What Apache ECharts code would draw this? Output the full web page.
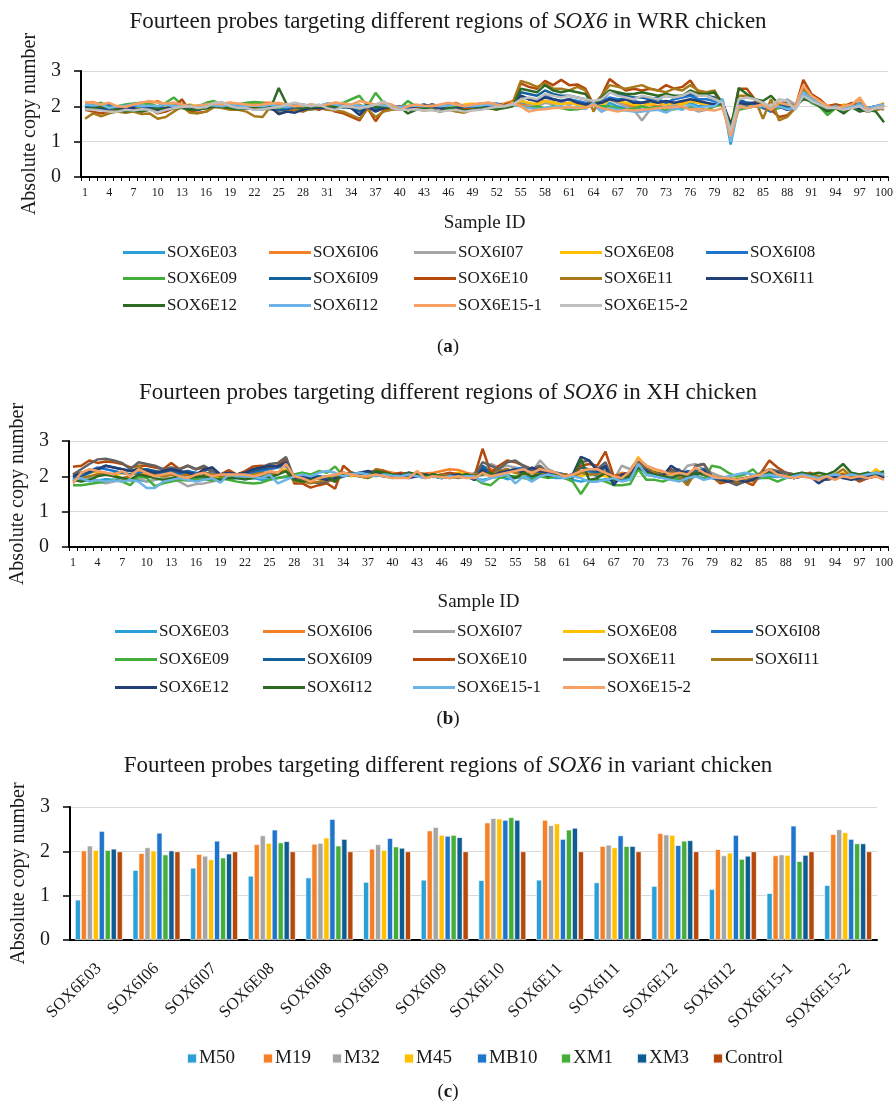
<!DOCTYPE html>
<html><head><meta charset="utf-8">
<script src="https://cdn.jsdelivr.net/npm/echarts@6/dist/echarts.min.js"></script>
<style>
html,body{margin:0;padding:0;background:#fff;}
.c{position:absolute;left:0;width:896px;}
</style></head>
<body>
<div id="ca" class="c" style="top:0;height:370px"></div>
<div id="cb" class="c" style="top:370px;height:370px"></div>
<div id="cc" class="c" style="top:740px;height:368px"></div>
<script>
// ---------- categories ----------
const sampleIds = [];
for (let i = 1; i <= 100; i++) sampleIds.push(String(i));
const probesA = ['SOX6E03','SOX6I06','SOX6I07','SOX6E08','SOX6I08','SOX6E09','SOX6I09','SOX6E10','SOX6E11','SOX6I11','SOX6E12','SOX6I12','SOX6E15-1','SOX6E15-2'];
const probesB = ['SOX6E03','SOX6I06','SOX6I07','SOX6E08','SOX6I08','SOX6E09','SOX6I09','SOX6E10','SOX6E11','SOX6I11','SOX6E12','SOX6I12','SOX6E15-1','SOX6E15-2'];
const probesC = ['SOX6E03','SOX6I06','SOX6I07','SOX6E08','SOX6I08','SOX6E09','SOX6I09','SOX6E10','SOX6E11','SOX6I11','SOX6E12','SOX6I12','SOX6E15-1','SOX6E15-2'];
const variants = ['M50','M19','M32','M45','MB10','XM1','XM3','Control'];
const yTicks = [0,1,2,3];

// ---------- (a) WRR chicken ----------
const wrrE03 = [2.05,2.02,1.98,2.01,1.95,2.03,2.0,1.97,2.04,1.99, 2.02,2.06,1.98,2.0,1.96,2.03,2.05,2.0,1.98,2.02, 2.0,1.97,2.03,2.0,1.92,1.98,2.02,2.05,2.0,1.96, 2.08,2.04,2.0,1.98,1.95,2.02,1.98,2.05,2.01,1.96, 2.0,2.03,1.97,2.02,1.98,2.04,2.0,1.96,2.05,2.0, 2.02,1.98,2.04,2.06,2.1,2.05,2.0,2.12,2.08,2.1, 2.05,2.1,2.0,2.06,1.85,2.1,2.0,1.95,2.02,1.9, 1.95,2.0,1.85,2.02,2.05,2.1,2.0,2.05,2.08,2.2, 0.92,2.05,2.0,2.02,1.98,1.85,2.0,1.9,2.0,2.35, 2.2,2.1,1.95,2.0,1.92,2.0,2.1,1.95,2.0,2.05];
const wrrI06 = [2.1,2.12,2.05,2.08,1.98,1.95,2.02,2.1,2.08,2.15, 2.05,2.1,2.0,1.98,2.02,2.05,2.1,2.08,2.1,2.05, 2.08,2.05,2.1,2.1,2.05,2.0,2.05,1.98,2.0,2.02, 2.05,2.1,2.08,2.0,2.05,1.95,2.05,2.1,2.02,1.98, 2.0,2.02,2.0,2.05,1.98,2.02,2.1,2.0,2.05,2.08, 2.1,2.05,2.08,2.15,2.05,2.0,2.1,2.15,2.12,2.05, 2.1,2.05,2.0,2.05,2.0,2.2,2.1,2.05,2.0,2.1, 2.05,2.0,2.1,2.05,2.1,2.15,2.1,2.05,2.0,2.1, 1.25,2.1,2.05,2.0,2.05,1.95,2.1,2.05,2.0,2.55, 2.3,2.2,2.0,2.05,2.0,2.05,2.2,1.9,2.0,2.0];
const wrrI07 = [1.9,1.95,1.92,1.88,1.95,2.0,1.9,1.95,1.98,1.9, 1.95,2.0,1.98,1.95,1.92,2.0,2.05,2.02,1.98,2.0, 1.95,1.92,1.9,1.95,1.92,2.0,1.98,1.95,2.0,1.98, 1.95,2.0,1.98,1.95,1.92,1.9,1.95,2.05,2.0,1.95, 1.98,1.95,1.9,1.92,1.95,1.9,1.92,1.95,1.9,1.95, 1.98,2.0,2.02,2.1,2.2,2.05,2.0,2.1,2.05,2.08, 2.05,2.1,2.0,2.08,2.0,2.2,2.1,2.0,1.9,1.6, 1.9,1.95,2.0,2.05,2.0,1.95,1.85,1.9,2.0,2.1, 1.2,2.0,2.05,2.1,2.0,1.9,2.05,2.2,2.05,2.35, 2.15,2.05,1.9,1.95,1.85,1.95,2.0,1.9,1.95,1.9];
const wrrE08 = [1.95,2.0,2.05,2.0,1.98,2.02,2.0,1.95,2.02,1.98, 2.0,2.02,1.98,2.05,2.0,1.98,2.02,2.0,1.98,2.0, 2.02,2.05,2.0,1.98,1.95,2.0,1.98,2.0,2.02,2.0, 1.98,2.0,2.02,2.0,1.95,1.9,1.98,2.0,1.98,2.0, 2.02,1.98,2.0,1.98,2.02,2.0,1.98,2.05,2.08,2.02, 2.05,2.0,2.05,2.1,2.15,2.1,2.05,2.15,2.1,2.05, 2.1,2.05,2.0,2.05,2.0,2.2,2.15,2.1,2.05,2.0, 2.05,2.1,2.05,2.1,2.05,2.15,2.1,2.05,2.0,2.05, 1.55,2.1,2.05,2.0,1.95,2.0,2.05,1.95,2.0,2.45, 2.2,2.1,2.0,1.95,2.05,2.0,2.05,1.95,2.0,2.1];
const wrrI08 = [2.0,1.98,2.02,2.05,1.95,1.98,2.0,2.02,1.98,2.0, 1.95,2.0,2.05,2.02,1.98,2.0,2.02,2.05,1.98,1.95, 2.0,2.02,1.98,2.0,1.95,1.92,1.98,2.0,2.02,2.0, 2.05,2.0,1.98,2.0,1.98,2.0,1.95,2.0,2.02,1.98, 2.0,2.02,1.98,2.05,2.0,2.02,2.05,2.0,2.02,1.98, 2.05,2.08,2.02,2.1,2.3,2.2,2.15,2.3,2.2,2.15, 2.2,2.15,2.1,2.05,2.1,2.25,2.2,2.2,2.15,2.1, 2.15,2.2,2.1,2.2,2.25,2.3,2.2,2.2,2.15,2.1, 1.4,2.15,2.1,2.05,1.95,1.85,2.05,2.0,2.0,2.4, 2.2,2.1,2.0,1.95,2.0,2.0,2.05,1.95,2.0,2.05];
const wrrE09 = [2.02,2.05,2.1,1.95,2.0,2.05,2.08,2.1,2.05,2.0, 2.1,2.25,2.05,1.95,2.0,2.1,2.15,2.05,2.0,2.05, 2.1,2.12,2.1,2.0,1.95,2.0,2.02,1.98,1.9,1.95, 2.0,2.05,2.1,2.2,2.3,2.0,2.38,2.1,2.0,1.95, 2.15,2.0,1.95,1.98,2.0,1.95,1.98,2.0,1.95,2.0, 2.02,1.98,2.0,2.05,2.0,1.95,2.0,1.95,2.0,1.95, 1.9,1.92,1.95,2.05,2.0,2.0,1.95,1.9,1.95,2.0, 1.95,1.98,1.9,1.92,1.95,2.0,1.95,1.9,2.0,2.05, 1.3,1.9,1.95,2.0,2.0,1.9,1.95,2.0,2.0,2.3, 2.1,2.0,1.75,1.95,1.85,2.0,1.9,1.85,1.95,2.0];
const wrrI09 = [1.95,2.0,1.95,1.9,1.92,1.95,1.9,1.95,1.92,1.98, 1.9,1.95,1.98,1.92,1.9,1.95,2.0,1.98,1.95,1.92, 1.95,1.98,1.95,1.92,1.88,1.9,1.92,1.95,2.0,1.98, 2.0,1.95,1.98,1.95,1.85,1.95,1.9,1.98,1.95,1.92, 1.95,2.0,1.95,2.05,1.95,1.92,1.9,1.95,2.0,1.95, 2.0,1.95,2.0,2.05,2.4,2.35,2.3,2.45,2.35,2.3, 2.3,2.25,2.2,2.1,2.15,2.4,2.35,2.3,2.25,2.25, 2.2,2.25,2.3,2.25,2.3,2.35,2.3,2.3,2.25,2.1, 1.35,2.2,2.1,2.1,2.0,1.9,2.05,2.0,1.95,2.35, 2.15,2.05,1.9,2.0,1.92,2.0,1.95,1.9,1.95,2.05];
const wrrE10 = [1.9,1.85,1.8,1.85,1.9,1.88,1.92,1.85,1.95,1.8, 1.85,1.95,2.2,1.85,1.82,1.85,2.0,2.05,2.0,2.05, 2.0,1.95,1.95,2.0,1.8,1.85,1.9,1.85,1.95,1.9, 2.0,1.85,1.8,1.7,1.6,1.95,1.58,1.9,1.95,2.0, 1.95,2.0,1.95,2.05,1.95,1.9,1.9,1.95,1.92,1.95, 2.0,1.95,2.05,2.1,2.65,2.55,2.5,2.72,2.6,2.75, 2.6,2.62,2.5,2.05,2.3,2.77,2.6,2.45,2.5,2.45, 2.5,2.45,2.6,2.5,2.55,2.73,2.4,2.4,2.38,2.0, 1.3,2.5,2.5,2.2,2.0,1.9,1.7,1.75,1.95,2.75, 2.35,2.2,2.0,2.05,2.0,2.1,2.0,1.85,1.9,1.95];
const wrrE11 = [1.65,1.8,1.72,1.8,1.85,1.82,1.85,1.78,1.8,1.65, 1.7,1.85,2.0,1.82,1.8,1.85,1.98,1.95,1.9,1.9, 1.85,1.72,1.7,2.0,1.78,1.85,1.9,1.88,1.92,1.95, 1.9,1.88,1.85,1.75,1.65,1.92,1.7,1.85,1.9,1.92, 1.9,1.92,1.88,1.9,1.85,1.9,1.85,1.82,1.9,1.92, 1.95,1.9,2.0,2.1,2.72,2.65,2.55,2.65,2.5,2.5, 2.45,2.55,2.45,1.85,2.3,2.6,2.55,2.5,2.55,2.6, 2.5,2.45,2.4,2.5,2.45,2.6,2.45,2.4,2.45,2.0, 1.25,2.3,2.3,2.2,1.65,2.2,1.6,1.7,1.95,2.5, 2.3,2.15,1.95,2.0,1.9,2.0,1.95,1.85,1.9,1.95];
const wrrI11 = [1.95,1.9,1.92,1.95,1.9,1.92,1.95,1.9,1.95,1.9, 1.95,2.0,1.98,1.95,1.92,1.95,2.0,2.0,1.98,1.95, 1.95,1.92,1.95,1.98,1.78,1.85,1.82,1.9,1.95,1.95, 1.95,2.0,2.05,1.95,1.75,2.0,1.85,1.95,2.0,1.95, 1.95,2.0,2.05,1.98,1.95,1.92,1.95,1.98,2.0,1.95, 2.0,1.98,2.02,2.05,2.3,2.2,2.15,2.25,2.2,2.15, 2.2,2.1,2.05,2.08,2.1,2.2,2.15,2.2,2.1,2.1, 2.15,2.1,2.15,2.1,2.15,2.2,2.15,2.1,2.05,2.1, 1.5,2.1,2.05,2.1,2.0,1.95,2.0,1.9,1.95,2.3, 2.15,2.05,1.95,1.98,1.95,1.98,1.92,1.95,2.0,2.0];
const wrrE12 = [1.92,1.95,2.0,1.95,1.9,1.85,1.88,1.85,1.9,1.95, 1.9,1.95,1.95,1.9,1.92,1.95,2.0,1.98,1.95,1.92, 1.95,1.98,1.95,1.95,2.52,2.05,2.0,1.95,1.98,2.0, 1.98,2.0,1.98,2.0,1.95,2.05,1.98,2.0,1.95,1.98, 1.8,1.9,1.95,1.92,1.85,1.95,1.92,1.88,1.9,1.95, 1.95,1.92,1.95,2.0,2.5,2.45,2.4,2.6,2.45,2.4, 2.45,2.4,2.35,2.05,2.25,2.45,2.4,2.35,2.35,2.4, 2.35,2.3,2.35,2.3,2.3,2.45,2.35,2.35,2.4,2.1, 1.35,2.52,2.35,2.2,2.15,2.3,2.05,2.1,2.0,2.2, 2.15,2.0,1.85,1.95,1.8,1.98,1.85,1.9,1.85,1.55];
const wrrI12 = [2.05,2.02,2.05,1.95,2.0,2.02,2.05,2.0,2.02,2.0, 2.05,2.0,2.02,1.98,2.02,2.05,2.02,2.0,2.05,2.02, 2.0,2.02,2.0,2.05,2.0,1.98,2.02,2.0,2.05,2.02, 2.08,2.05,2.0,2.05,2.02,2.0,2.05,2.02,2.0,1.98, 2.0,2.02,2.0,2.02,2.0,2.02,2.05,2.0,2.0,2.02, 2.05,2.0,2.02,2.05,2.0,1.95,1.92,1.95,1.98,2.0, 1.95,1.98,1.92,2.1,1.85,1.95,1.9,1.88,1.85,1.85, 1.88,1.9,1.82,1.95,1.9,2.05,1.95,2.0,2.0,2.2, 1.0,2.0,1.95,2.0,2.0,1.95,2.0,1.92,1.95,2.4, 2.2,2.1,1.95,2.0,1.95,1.98,2.05,1.95,2.0,2.05];
const wrrE151 = [2.12,2.1,2.05,2.1,2.0,1.98,2.05,2.1,2.15,2.1, 2.08,2.1,2.05,2.0,2.02,2.05,2.08,2.05,2.1,2.08, 2.05,2.02,2.05,2.08,2.1,2.05,2.0,2.02,2.05,2.02, 2.05,2.1,2.08,2.05,2.15,2.1,2.05,2.1,2.05,1.9, 2.0,2.05,2.02,2.0,2.05,2.1,2.05,2.0,2.05,2.08, 2.1,2.05,2.0,2.1,2.0,1.85,1.9,1.92,1.95,1.95, 1.98,1.95,1.95,2.05,1.95,1.9,1.85,1.9,1.88,1.9, 1.92,1.95,1.95,1.98,2.0,1.9,1.92,1.9,1.88,1.95, 1.15,2.0,1.95,2.0,2.05,1.9,2.1,2.05,2.0,2.6, 2.3,2.15,2.0,1.95,2.0,2.05,2.25,1.9,1.95,2.0];
const wrrE152 = [1.92,1.9,1.88,1.85,1.85,1.9,1.88,1.92,1.9,1.82, 1.9,1.95,1.98,2.0,1.95,1.98,2.1,2.12,2.0,1.95, 1.95,1.9,1.92,1.95,1.98,2.05,2.1,2.05,2.0,2.05, 1.95,1.9,2.0,1.98,1.95,1.98,2.05,2.15,1.95,1.9, 1.9,1.92,1.88,1.9,1.85,1.88,1.9,1.85,1.88,1.9, 1.95,1.98,2.0,2.05,2.2,2.25,2.2,2.35,2.3,2.25, 2.3,2.25,2.2,2.15,2.2,2.4,2.3,2.25,2.2,2.3, 2.25,2.2,2.3,2.25,2.3,2.4,2.3,2.3,2.2,2.1, 1.3,2.2,2.25,2.2,2.1,2.0,2.2,2.15,1.9,2.3, 2.15,2.05,1.95,1.95,1.9,1.95,2.0,1.85,1.95,1.95];

// ---------- (b) XH chicken ----------
const xhE03 = [1.85,1.9,1.95,1.88,1.92,1.9,1.95,1.88,1.9,1.85, 1.9,1.95,1.92,1.95,1.9,1.92,1.95,1.9,1.95,1.92, 1.95,1.92,1.95,1.9,1.92,1.95,1.98,2.0,1.95,1.98, 2.0,1.95,2.0,2.05,2.02,2.0,2.05,2.02,2.0,2.02, 2.0,2.05,2.02,2.0,1.98,2.0,2.02,2.0,2.02,1.95, 1.9,1.95,2.0,1.92,1.95,2.0,1.95,2.0,1.98,1.95, 1.95,1.9,1.85,1.9,1.88,1.92,1.85,1.9,1.95,2.3, 2.05,2.0,1.95,2.0,1.95,1.9,2.0,1.95,2.0,1.95, 1.95,1.92,1.95,1.9,1.95,2.0,1.98,2.0,1.95,2.0, 1.98,1.95,2.0,1.98,1.95,2.0,1.98,1.95,2.05,2.0];
const xhI06 = [2.05,2.1,2.15,2.1,2.05,2.08,2.1,2.05,2.1,2.05, 2.05,2.0,2.05,2.08,2.1,2.05,2.02,2.05,2.0,2.02, 2.05,2.08,2.1,2.05,2.1,2.08,2.2,2.0,1.95,1.9, 1.95,2.0,1.95,2.1,2.05,2.0,2.05,2.2,2.15,2.1, 2.05,2.1,2.05,2.08,2.1,2.15,2.2,2.18,2.1,2.05, 2.15,2.2,2.1,2.15,2.2,2.1,2.15,2.1,2.05,2.0, 2.05,2.0,2.1,2.05,2.1,2.15,2.0,2.1,2.05,2.4, 2.2,2.15,2.1,2.05,2.15,2.1,2.05,2.1,2.0,1.95, 1.95,1.9,1.95,2.0,2.05,2.15,2.1,2.05,2.0,2.05, 2.1,2.0,1.95,2.0,2.05,2.0,1.9,1.95,2.0,1.95];
const xhI07 = [1.95,2.0,1.9,1.85,1.8,1.85,1.9,1.88,1.95,1.85, 1.9,1.95,1.92,1.85,1.72,1.78,1.8,1.85,1.9,1.95, 1.98,2.0,1.95,2.0,2.05,2.1,2.2,2.05,2.1,2.0, 1.95,2.0,1.9,2.05,2.1,2.0,2.05,2.1,2.0,2.05, 2.0,2.05,2.0,1.95,2.0,2.05,2.0,1.98,2.0,2.1, 2.2,2.35,2.25,2.3,2.25,2.2,2.1,2.45,2.2,2.1, 2.05,2.0,2.1,2.2,2.1,2.05,1.9,2.3,2.2,2.5, 2.3,2.2,2.1,2.05,2.0,2.3,2.35,2.2,2.1,2.0, 1.95,1.9,1.95,2.0,2.1,2.15,2.05,2.1,2.05,2.1, 2.05,2.0,1.95,2.0,2.05,1.95,1.95,2.0,2.05,2.0];
const xhE08 = [1.85,2.0,2.1,2.15,2.05,2.0,2.1,2.05,2.15,2.1, 2.05,2.0,2.05,2.1,2.05,2.0,2.05,2.0,1.95,2.0, 2.05,2.0,2.05,2.0,2.05,2.1,2.2,2.0,1.95,1.9, 1.95,1.9,1.95,2.05,2.0,2.05,2.0,2.15,2.1,2.05, 2.05,2.0,2.05,2.0,2.05,2.0,2.05,2.1,2.05,2.0, 2.1,2.05,2.1,2.15,2.1,2.05,2.1,2.05,2.1,2.05, 2.0,2.05,2.0,2.1,2.05,2.0,1.95,2.05,2.1,2.55, 2.25,2.15,2.1,2.05,2.0,1.8,2.1,2.05,2.0,1.95, 1.9,1.95,1.9,1.95,2.05,2.1,2.05,1.95,2.0,2.05, 2.05,2.0,1.95,2.0,2.1,2.0,1.95,2.0,2.2,2.05];
const xhI08 = [1.95,2.0,2.15,2.25,2.2,2.15,2.1,2.05,2.1,2.15, 2.1,2.05,2.1,2.05,2.15,2.1,2.05,2.15,2.0,2.05, 2.0,2.05,2.1,2.15,2.2,2.25,2.3,2.0,1.95,1.9, 2.0,1.95,1.9,2.0,2.05,2.1,2.05,2.1,2.0,2.05, 2.0,2.05,2.0,2.05,2.0,1.95,2.0,2.05,2.0,1.95, 2.3,2.05,2.1,2.15,2.2,2.25,2.1,2.15,2.05,2.0, 2.0,2.05,2.1,2.15,2.0,2.3,1.95,2.0,2.05,2.35, 2.15,2.1,2.05,2.1,2.05,2.15,2.1,2.05,2.0,1.9, 1.85,1.9,1.95,2.0,2.05,2.1,2.05,2.0,1.95,2.0, 2.0,1.95,1.9,2.0,2.05,1.95,1.9,1.95,2.1,2.05];
const xhE09 = [1.75,1.75,1.78,1.82,1.85,1.9,1.85,1.75,2.0,1.95, 1.72,1.8,1.85,1.9,1.88,1.9,1.92,1.88,1.95,1.9, 1.85,1.82,1.8,1.82,1.9,1.95,2.0,2.05,2.1,2.05, 2.15,2.1,2.28,2.0,2.05,2.0,1.95,2.05,2.0,1.95, 2.0,2.05,2.0,1.98,2.0,1.95,2.0,2.05,2.0,1.95, 1.8,1.75,1.95,2.0,2.0,1.95,1.9,2.0,1.95,2.0, 1.95,1.85,1.5,1.85,1.9,1.85,1.75,1.75,1.78,2.2, 1.9,1.9,1.85,1.95,1.9,2.0,2.05,1.9,2.3,2.25, 2.1,2.0,2.05,2.2,1.95,1.95,1.85,1.95,2.0,2.05, 2.05,2.0,2.0,2.05,2.0,2.05,2.0,2.1,2.05,2.0];
const xhI09 = [1.9,2.0,2.1,2.2,2.3,2.25,2.2,2.15,2.2,2.2, 2.15,2.1,2.15,2.1,2.15,2.05,2.15,2.25,2.0,2.05, 2.05,2.1,2.15,2.2,2.25,2.3,2.35,1.95,1.9,1.95, 2.0,1.95,1.9,2.05,2.1,2.05,2.1,2.05,2.0,2.05, 2.05,2.1,2.05,2.0,2.05,2.0,2.05,2.0,2.05,1.9, 2.3,2.1,2.15,2.2,2.1,2.15,2.2,2.1,2.05,2.1, 2.05,2.0,2.25,2.2,2.1,2.25,1.8,2.0,2.05,2.3, 2.2,2.1,2.05,2.2,2.1,2.05,2.15,2.2,2.0,1.9, 1.9,1.85,1.9,1.95,2.05,2.1,2.05,2.0,1.95,2.0, 2.05,1.95,1.9,1.95,2.0,2.0,1.95,1.95,2.1,2.05];
const xhE10 = [2.27,2.3,2.45,2.38,2.42,2.4,2.35,2.25,2.3,2.3, 2.25,2.2,2.38,2.2,2.3,2.2,2.25,2.15,2.05,2.18, 2.05,2.15,2.28,2.3,2.28,2.3,2.5,1.8,1.8,1.68, 1.75,1.8,1.65,2.3,2.1,2.05,2.0,2.2,2.15,2.05, 2.1,2.05,2.1,2.05,2.0,2.05,2.1,2.05,2.0,2.0, 2.78,2.1,2.3,2.45,2.4,2.3,2.2,2.25,2.1,2.0, 2.05,2.0,2.3,2.35,2.3,2.7,2.0,2.05,2.1,2.45, 2.2,2.1,2.05,2.2,2.0,1.75,2.3,2.35,2.0,1.8, 1.85,1.8,1.85,1.75,2.1,2.45,2.25,2.1,2.05,2.0, 2.1,1.95,1.9,2.0,2.05,2.0,1.85,1.95,2.0,1.95];
const xhE11 = [2.05,2.2,2.35,2.48,2.5,2.45,2.38,2.2,2.4,2.35, 2.3,2.2,2.25,2.2,2.3,2.2,2.3,2.15,2.05,2.1, 2.05,2.1,2.2,2.25,2.35,2.38,2.55,1.95,1.9,1.85, 1.8,1.85,1.9,2.05,2.1,2.05,2.0,2.1,2.05,2.0, 2.05,2.0,2.05,2.0,2.05,2.0,2.05,2.0,2.05,2.0, 2.4,2.3,2.2,2.4,2.45,2.3,2.2,2.3,2.1,2.05, 2.0,2.05,2.4,2.45,2.2,2.4,1.85,1.95,2.05,2.4, 2.2,2.1,2.05,2.15,2.2,1.75,2.3,2.35,2.0,1.9, 1.85,1.75,1.85,1.95,2.1,2.2,2.15,2.1,2.05,2.05, 2.0,1.95,1.9,1.95,2.0,1.95,1.9,1.95,2.0,1.95];
const xhI11 = [1.9,1.95,2.0,2.05,2.1,2.0,1.95,2.0,2.3,2.1, 2.05,2.0,2.05,2.0,2.05,2.0,2.1,2.05,2.0,2.05, 2.05,2.0,2.05,2.1,2.05,2.1,2.15,1.85,1.85,1.8, 1.85,1.9,1.85,2.05,2.05,2.0,1.95,2.2,2.1,2.05, 2.0,2.05,2.1,2.05,2.0,2.05,2.0,1.95,2.0,2.05, 2.1,2.05,2.15,2.2,2.1,2.05,2.1,2.05,2.1,2.0, 2.05,2.0,2.1,2.05,2.05,2.1,1.95,2.0,2.05,2.35, 2.15,2.1,2.0,2.1,2.0,1.75,2.1,2.05,2.0,1.85, 1.9,1.85,1.9,1.85,2.1,2.1,2.05,2.0,2.05,2.0, 2.05,2.0,1.95,2.05,2.2,2.0,1.95,2.0,2.05,2.0];
const xhE12 = [2.0,2.1,2.15,2.2,2.3,2.25,2.2,2.15,2.2,2.15, 2.1,2.15,2.2,2.15,2.1,2.05,2.2,2.25,2.05,2.1, 2.05,2.1,2.2,2.25,2.3,2.28,2.4,1.95,2.0,1.95, 1.95,1.9,1.95,2.0,2.05,2.1,2.15,2.1,2.05,2.0, 2.05,1.95,2.0,2.05,2.0,1.95,2.0,2.05,2.0,1.9, 2.2,2.0,2.1,2.15,2.2,2.1,2.25,2.15,2.1,2.05, 2.0,2.05,2.55,2.45,2.15,2.3,1.75,2.05,2.1,2.3, 2.15,2.05,2.0,2.3,2.15,2.1,2.05,2.15,1.95,1.9, 1.85,1.9,1.85,1.9,2.05,2.1,2.1,2.0,1.95,2.0, 2.0,1.8,1.95,2.0,1.95,1.9,1.95,2.0,2.05,1.95];
const xhI12 = [1.9,1.85,1.9,2.0,2.05,2.0,1.95,1.9,2.05,2.0, 1.95,1.9,1.95,2.0,1.95,1.98,2.0,1.95,1.9,1.95, 1.95,1.92,1.95,2.0,1.98,2.05,2.15,1.9,1.85,1.9, 1.95,2.0,1.85,2.1,2.05,2.0,2.05,2.15,2.1,2.05, 2.0,2.1,2.05,2.0,2.05,2.0,1.95,2.0,2.05,2.0, 2.05,2.1,2.0,2.05,1.95,2.1,2.0,2.05,2.0,2.05, 2.0,1.95,2.5,1.9,1.95,2.1,1.9,1.95,2.0,2.25, 2.1,2.05,2.0,1.95,2.05,2.0,2.1,2.05,2.0,1.95, 1.95,1.9,1.95,2.0,2.05,2.1,2.05,2.0,2.05,2.1, 2.05,2.1,2.05,2.15,2.35,2.1,2.05,2.1,2.05,2.15];
const xhE151 = [1.9,1.95,1.85,1.9,1.85,1.88,1.85,1.9,1.85,1.67, 1.67,1.85,1.9,1.95,1.9,1.85,1.9,1.95,1.82,2.05, 2.0,2.0,1.98,1.95,2.05,1.8,1.9,2.0,2.05,2.0, 2.1,2.15,2.1,2.0,2.05,2.1,2.05,2.0,2.05,2.02, 2.0,2.05,2.0,1.95,2.0,1.95,2.0,1.98,2.0,2.0, 1.85,1.95,2.0,2.05,1.8,2.0,1.85,2.0,2.05,2.0, 1.95,2.0,1.95,1.85,1.85,1.9,1.95,1.85,1.9,2.35, 2.05,2.0,1.95,1.9,1.85,1.95,2.0,1.9,1.95,1.95, 2.0,2.05,2.1,2.05,2.0,2.05,2.0,1.95,2.0,2.05, 2.0,1.95,2.0,2.05,2.0,2.05,2.0,2.05,2.1,2.05];
const xhE152 = [1.8,2.1,2.2,2.15,2.1,2.05,2.15,2.0,2.2,2.1, 2.0,2.05,2.1,2.0,1.95,2.05,2.1,2.0,2.05,2.05, 2.05,2.05,2.0,2.05,2.15,2.1,2.35,2.0,1.95,1.85, 1.95,2.0,2.05,2.1,2.05,2.0,2.0,2.05,2.0,1.95, 1.95,1.95,2.15,1.95,2.0,1.98,1.95,2.0,1.95,1.95, 2.1,2.0,2.05,2.1,2.15,2.2,2.1,2.2,2.15,2.1, 2.0,2.05,2.15,2.2,2.2,2.1,2.0,1.95,2.15,2.5, 2.3,2.2,2.15,2.05,2.1,2.05,2.25,2.1,2.0,1.95, 1.95,1.9,1.95,2.0,2.05,2.2,2.05,2.0,1.95,2.0, 1.95,1.9,2.0,1.9,2.0,1.95,2.0,1.95,2.0,1.9];

// ---------- (c) variant chicken ----------
const vM50  = [0.91,1.58,1.63,1.45,1.41,1.31,1.36,1.35,1.36,1.30,1.22,1.15,1.06,1.24];
const vM19  = [2.02,1.96,1.94,2.16,2.17,2.06,2.47,2.65,2.71,2.12,2.41,2.05,1.91,2.39];
const vM32  = [2.13,2.09,1.90,2.36,2.19,2.16,2.55,2.75,2.59,2.15,2.38,1.91,1.93,2.50];
const vM45  = [2.03,2.02,1.82,2.19,2.31,2.03,2.37,2.74,2.63,2.09,2.37,1.97,1.92,2.43];
const vMB10 = [2.46,2.42,2.24,2.49,2.73,2.30,2.35,2.71,2.28,2.36,2.14,2.37,2.58,2.28];
const vXM1  = [2.03,1.93,1.86,2.20,2.13,2.11,2.37,2.77,2.49,2.12,2.24,1.83,1.78,2.18];
const vXM3  = [2.06,2.02,1.95,2.23,2.28,2.08,2.32,2.71,2.53,2.12,2.25,1.90,1.92,2.18];
const vCtrl = [2.00,2.00,2.00,2.00,2.00,2.00,2.00,2.00,2.00,2.00,2.00,2.00,2.00,2.00];

const F = "'Liberation Serif', 'DejaVu Serif', serif";
const TXT = '#1a1a1a';

const colorsA = ['#2A9FD8','#F58025','#A5A5A5','#FFC000','#1F74CC','#45AD3A','#13609A','#B5490B','#A8791A','#233F78','#2E6B22','#6CB4E8','#F8A064','#BFBFBF'];
const colorsB = ['#2A9FD8','#F58025','#A5A5A5','#FFC000','#1F74CC','#45AD3A','#13609A','#B5490B','#636363','#A8791A','#233F78','#2E6B22','#6CB4E8','#F8A064'];
const colorsC = ['#2A9FD8','#F58025','#A5A5A5','#FFC000','#1F74CC','#45AD3A','#0E5C94','#B5490B'];

const dataA = [wrrE03,wrrI06,wrrI07,wrrE08,wrrI08,wrrE09,wrrI09,wrrE10,wrrE11,wrrI11,wrrE12,wrrI12,wrrE151,wrrE152];
const dataB = [xhE03,xhI06,xhI07,xhE08,xhI08,xhE09,xhI09,xhE10,xhE11,xhI11,xhE12,xhI12,xhE151,xhE152];
const dataC = [vM50,vM19,vM32,vM45,vMB10,vXM1,vXM3,vCtrl];

function titleRich(txt, top) {
  return { text: '{n|Fourteen probes targeting different regions of }{i|SOX6}{n| in ' + txt + ' chicken}',
    left: 'center', top: top, padding: 0,
    textStyle: { fontWeight: 'normal', rich: {
      n: { fontFamily: F, fontSize: 23, color: TXT, fontWeight: 'normal' },
      i: { fontFamily: F, fontSize: 23, color: TXT, fontStyle: 'italic', fontWeight: 'normal' } } } };
}
function panelLabel(ch, top) {
  return { text: '{n|(}{b|' + ch + '}{n|)}', left: 'center', top: top, padding: 0,
    textStyle: { fontWeight: 'normal', rich: {
      n: { fontFamily: F, fontSize: 19, color: TXT, fontWeight: 'normal' },
      b: { fontFamily: F, fontSize: 19, color: TXT, fontWeight: 'bold' } } } };
}
function yAxisCfg(nameGap) {
  return { type: 'value', min: yTicks[0], max: yTicks[yTicks.length - 1], interval: 1,
    name: 'Absolute copy number', nameLocation: 'middle', nameGap: nameGap, nameRotate: 90,
    nameTextStyle: { fontFamily: F, fontSize: 20, color: TXT },
    axisLine: { show: true, lineStyle: { color: '#000', width: 2 } },
    axisTick: { show: true, length: 7, lineStyle: { color: '#000', width: 1.5 } },
    axisLabel: { fontFamily: F, fontSize: 20, color: TXT, margin: 20 },
    splitLine: { lineStyle: { color: '#D9D9D9', width: 1.2 } } };
}
// one legend component per item, placed on a 5-column grid
function lineLegends(names, lefts, tops) {
  return names.map((n, i) => ({
    data: [n], left: lefts[i % 5], top: tops[Math.floor(i / 5)], icon: 'rect', padding: 0,
    itemWidth: 42, itemHeight: 3, selectedMode: false,
    textStyle: { fontFamily: F, fontSize: 17, color: TXT, padding: [0,0,0,-3] }
  }));
}
function lineChart(el, names, colors, data, L) {
  const ch = echarts.init(document.getElementById(el), null, { renderer: 'canvas' });
  ch.setOption({
    animation: false,
    title: [titleRich(L.region, L.titleTop), panelLabel(L.panel, L.panelTop)],
    legend: lineLegends(names, L.legLefts, L.legTops),
    grid: { left: L.gl, right: L.gr, top: L.gt, height: L.gh },
    xAxis: { type: 'category', data: sampleIds, boundaryGap: true,
      name: 'Sample ID', nameLocation: 'middle', nameGap: L.xNameGap,
      nameTextStyle: { fontFamily: F, fontSize: 19, color: TXT },
      axisLine: { lineStyle: { color: '#000', width: 2 } },
      axisTick: { show: true, interval: 0, length: 4, lineStyle: { color: '#000', width: 1 } },
      axisLabel: { interval: 2, fontFamily: F, fontSize: 12, color: TXT, margin: 10, hideOverlap: false } },
    yAxis: yAxisCfg(L.yNameGap),
    series: names.map((n, i) => ({ name: n, type: 'line', data: data[i], showSymbol: false, symbol: 'none',
      color: colors[i], lineStyle: { width: 2.5, color: colors[i] } }))
  });
}

lineChart('ca', probesA, colorsA, dataA, { region: 'WRR', panel: 'a', titleTop: 10, panelTop: 338,
  legLefts: [123, 269, 414, 560, 706], legTops: [244, 270, 297],
  gl: 81, gr: 6, gt: 71, gh: 106, xNameGap: 37, yNameGap: 35 });
lineChart('cb', probesB, colorsB, dataB, { region: 'XH', panel: 'b', titleTop: 11, panelTop: 340,
  legLefts: [115, 263, 413, 563, 711], legTops: [253, 281, 309],
  gl: 67, gr: 4, gt: 71, gh: 106, xNameGap: 46, yNameGap: 35 });

// ---------- bar chart (c) ----------
const barLegLefts = [186, 262, 331, 403, 476, 560, 636, 712];
const cc = echarts.init(document.getElementById('cc'));
cc.setOption({
  animation: false,
  title: [titleRich('variant', 14), panelLabel('c', 343)],
  legend: variants.map((n, i) => ({ data: [n], left: barLegLefts[i], top: 309, icon: 'rect',
    itemWidth: 10, itemHeight: 10, padding: 0, selectedMode: false,
    textStyle: { fontFamily: F, fontSize: 19, color: TXT, padding: [0,0,0,-3] } })),
  grid: { left: 70, right: 19, top: 67, height: 133 },
  xAxis: { type: 'category', data: probesC,
    axisLine: { lineStyle: { color: '#000', width: 2 } },
    axisTick: { show: false },
    axisLabel: { rotate: 45, interval: 0, fontFamily: F, fontSize: 17, color: TXT, margin: 26 } },
  yAxis: yAxisCfg(36),
  series: variants.map((n, i) => ({ name: n, type: 'bar', data: dataC[i], color: colorsC[i],
    barGap: '0%', barCategoryGap: '17%',
    itemStyle: { color: colorsC[i], borderColor: 'rgba(255,255,255,0.85)', borderWidth: 0.8 } }))
});
</script>
</body></html>
